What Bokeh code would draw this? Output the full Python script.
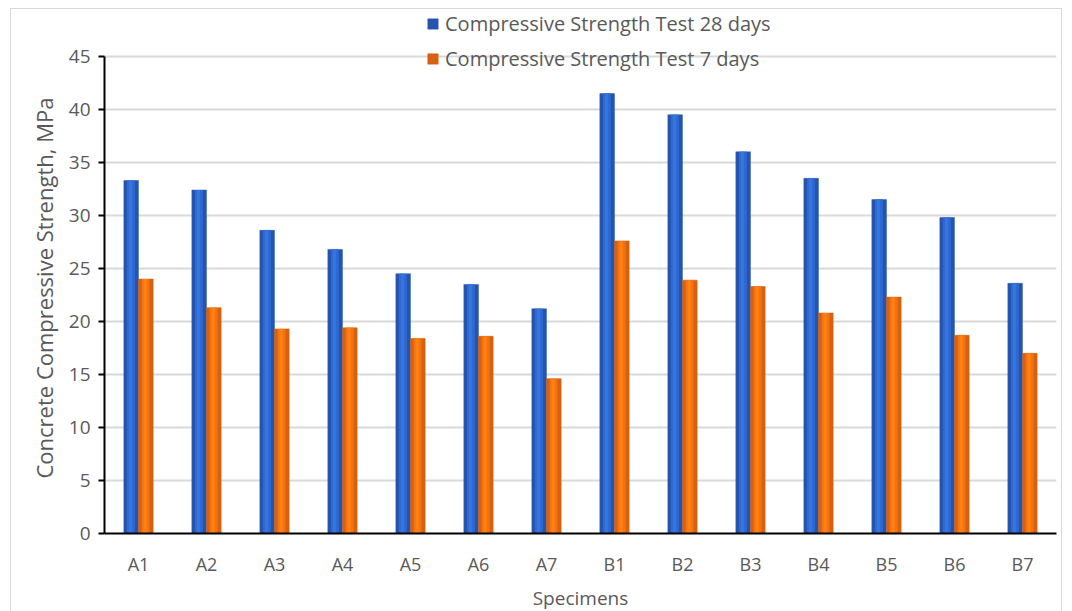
from bokeh.plotting import figure
from bokeh.models import FactorRange, Legend, LegendItem, ColumnDataSource, FixedTicker, Range1d, Title
from bokeh.transform import dodge
from bokeh.embed import file_html
from bokeh.resources import INLINE

specimens = ["A1", "A2", "A3", "A4", "A5", "A6", "A7", "B1", "B2", "B3", "B4", "B5", "B6", "B7"]
days28 = [33.3, 32.4, 28.6, 26.8, 24.5, 23.5, 21.2, 41.5, 39.5, 36.0, 33.5, 31.5, 29.8, 23.6]
days7 = [24.0, 21.3, 19.3, 19.4, 18.4, 18.6, 14.6, 27.6, 23.9, 23.3, 20.8, 22.3, 18.7, 17.0]
y_ticks = [0, 5, 10, 15, 20, 25, 30, 35, 40, 45]
series_names = ["Compressive Strength Test 28 days", "Compressive Strength Test 7 days"]
y_label = "Concrete Compressive Strength, MPa"

src = ColumnDataSource(dict(x=specimens, d28=days28, d7=days7))

FONT = "Open Sans"
TXT = "#595959"

p = figure(x_range=FactorRange(factors=specimens), y_range=Range1d(0, 49.43),
           width=1052, height=604, output_backend="svg", toolbar_location=None,
           min_border_left=93, min_border_right=7, min_border_top=0, min_border_bottom=79,
           margin=(8, 0, 0, 10))
p.styles = {"border": "1px solid #d9d9d9"}
p.outline_line_color = None
p.background_fill_color = "white"

bw = 0.215
# 28 days bars (blue)
r28 = p.vbar(x=dodge("x", -0.108, range=p.x_range), top="d28", width=bw, source=src,
             fill_color="#2654AC", line_color="#2A5AB8", line_width=0.5)
p.vbar(x=dodge("x", -0.112, range=p.x_range), top="d28", width=bw * 0.55, source=src,
       fill_color="#2F68D2", line_color=None)
p.vbar(x=dodge("x", -0.118, range=p.x_range), top="d28", width=bw * 0.22, source=src,
       fill_color="#3575E0", line_color=None)
# 7 days bars (orange)
r7 = p.vbar(x=dodge("x", 0.108, range=p.x_range), top="d7", width=bw, source=src,
            fill_color="#D8600E", line_color="#C65A10", line_width=0.5)
p.vbar(x=dodge("x", 0.104, range=p.x_range), top="d7", width=bw * 0.55, source=src,
       fill_color="#F5730F", line_color=None)
p.vbar(x=dodge("x", 0.098, range=p.x_range), top="d7", width=bw * 0.22, source=src,
       fill_color="#FF8015", line_color=None)

p.yaxis.ticker = FixedTicker(ticks=y_ticks)
p.yaxis.bounds = (0, 45)
p.ygrid.grid_line_color = "#d9d9d9"
p.ygrid.grid_line_width = 2
p.xgrid.grid_line_color = None

for ax in (p.xaxis[0], p.yaxis[0]):
    ax.axis_line_color = "black"
    ax.axis_line_width = 2
    ax.major_label_text_font = FONT
    ax.major_label_text_color = TXT
    ax.major_label_text_font_size = "18px"
    ax.axis_label_text_font = FONT
    ax.axis_label_text_color = TXT
    ax.axis_label_text_font_size = "19px"
    ax.axis_label_text_font_style = "normal"
    ax.minor_tick_line_color = None

p.yaxis.major_label_text_font_size = "19px"
p.xaxis.major_tick_line_color = None
p.xaxis.major_label_standoff = 12
p.xaxis.axis_label = "Specimens"
p.xaxis.axis_label_standoff = 6
p.yaxis.major_tick_line_color = "black"
p.yaxis.major_tick_line_width = 2
p.yaxis.major_tick_out = 6
p.yaxis.major_tick_in = 0
p.yaxis.major_label_standoff = 8

# y-axis title, placed along the 0-45 span
ytitle = Title(text=y_label, align="left", offset=55, standoff=14,
               text_font=FONT, text_color=TXT, text_font_size="22px",
               text_font_style="normal")
p.add_layout(ytitle, "left")

legend = Legend(items=[LegendItem(label=series_names[0], renderers=[r28]),
                       LegendItem(label=series_names[1], renderers=[r7])],
                location=(322, 461), orientation="vertical",
                label_text_font=FONT, label_text_color=TXT, label_text_font_size="20px",
                glyph_width=13, glyph_height=13, label_standoff=6, spacing=8,
                padding=0, margin=0, background_fill_alpha=0, border_line_color=None,
                label_height=24)
p.add_layout(legend)

open("out.html", "w").write(file_html(p, INLINE))
